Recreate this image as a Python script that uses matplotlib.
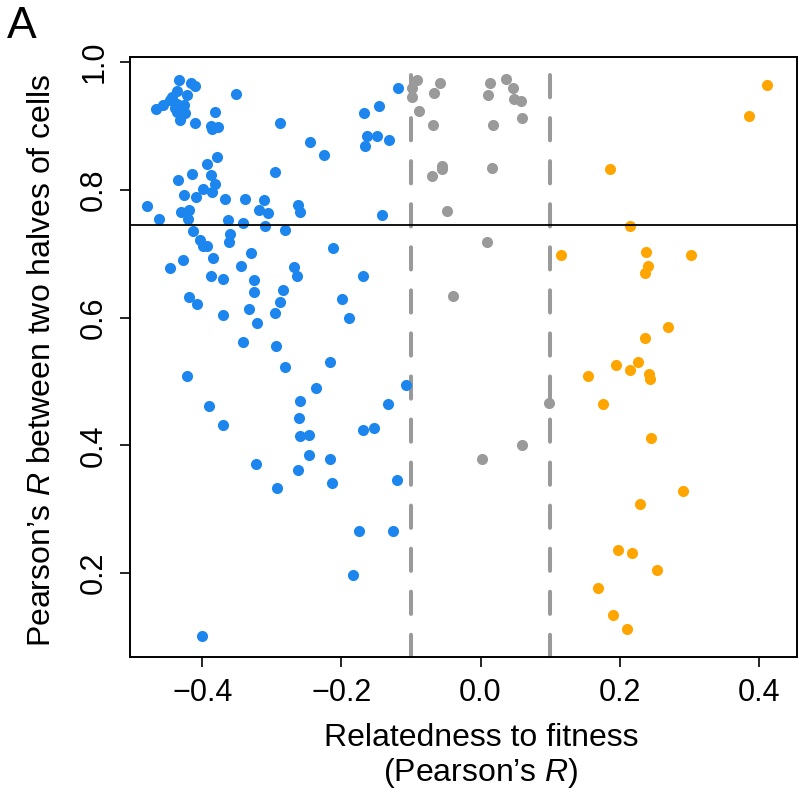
import matplotlib
matplotlib.use("Agg")
import matplotlib.pyplot as plt

plt.rcParams['font.family'] = ['Liberation Sans', 'DejaVu Sans']
plt.rcParams['mathtext.fontset'] = 'custom'
plt.rcParams['mathtext.rm'] = 'Liberation Sans'
plt.rcParams['mathtext.it'] = 'Liberation Sans:italic'
plt.rcParams['lines.scale_dashes'] = False

# genes negatively related to fitness (R < -0.1)
neg_x = [-0.433, -0.417, -0.410, -0.437, -0.422, -0.457, -0.466, -0.446, -0.437, -0.427,
         -0.437, -0.425, -0.432, -0.410, -0.352, -0.382, -0.387, -0.378, -0.386, -0.289,
         -0.245, -0.379, -0.394, -0.295, -0.415, -0.435, -0.387, -0.399, -0.382, -0.386,
         -0.427, -0.409, -0.368, -0.339, -0.311, -0.318, -0.306, -0.479, -0.462, -0.430,
         -0.419, -0.421, -0.363, -0.342, -0.263, -0.260, -0.310, -0.281, -0.413, -0.360,
         -0.362, -0.403, -0.399, -0.393, -0.330, -0.384, -0.428, -0.447, -0.344, -0.268,
         -0.264, -0.388, -0.370, -0.326, -0.325, -0.284, -0.419, -0.408, -0.288, -0.333,
         -0.296, -0.370, -0.321, -0.342, -0.294, -0.281, -0.422, -0.260, -0.390, -0.261,
         -0.370, -0.260, -0.246, -0.323, -0.263, -0.293, -0.400, -0.246, -0.118, -0.146,
         -0.168, -0.163, -0.149, -0.132, -0.166, -0.225, -0.141, -0.212, -0.169, -0.199,
         -0.189, -0.216, -0.107, -0.237, -0.133, -0.169, -0.153, -0.216, -0.214, -0.120,
         -0.175, -0.126, -0.184, -0.440, -0.430, -0.443]
neg_y = [0.972, 0.968, 0.962, 0.954, 0.949, 0.933, 0.926, 0.940, 0.935, 0.933,
         0.922, 0.920, 0.909, 0.905, 0.950, 0.922, 0.900, 0.899, 0.896, 0.904,
         0.875, 0.852, 0.841, 0.828, 0.825, 0.816, 0.824, 0.802, 0.809, 0.797,
         0.792, 0.789, 0.786, 0.786, 0.784, 0.769, 0.763, 0.774, 0.754, 0.766,
         0.768, 0.755, 0.752, 0.748, 0.777, 0.766, 0.743, 0.737, 0.736, 0.731,
         0.719, 0.721, 0.712, 0.712, 0.701, 0.693, 0.690, 0.678, 0.680, 0.679,
         0.665, 0.665, 0.661, 0.659, 0.640, 0.643, 0.632, 0.622, 0.624, 0.614,
         0.607, 0.604, 0.591, 0.561, 0.556, 0.523, 0.509, 0.470, 0.461, 0.442,
         0.431, 0.414, 0.416, 0.370, 0.361, 0.333, 0.102, 0.385, 0.959, 0.932,
         0.921, 0.885, 0.884, 0.878, 0.868, 0.855, 0.760, 0.709, 0.665, 0.629,
         0.599, 0.530, 0.495, 0.489, 0.465, 0.424, 0.427, 0.379, 0.341, 0.346,
         0.266, 0.266, 0.197, 0.928, 0.915, 0.945]

# genes unrelated to fitness (-0.1 <= R <= 0.1)
mid_x = [-0.091, -0.099, -0.098, -0.059, -0.067, -0.089, -0.069, -0.056, -0.055, -0.070,
         -0.048, 0.014, 0.011, 0.037, 0.047, 0.048, 0.058, 0.059, 0.018, 0.016,
         0.009, -0.040, 0.002, 0.060, 0.099]
mid_y = [0.972, 0.959, 0.946, 0.968, 0.952, 0.923, 0.902, 0.838, 0.833, 0.822,
         0.767, 0.968, 0.948, 0.973, 0.959, 0.942, 0.939, 0.913, 0.901, 0.834,
         0.719, 0.633, 0.378, 0.400, 0.467]

# genes positively related to fitness (R > 0.1)
pos_x = [0.412, 0.386, 0.186, 0.215, 0.115, 0.238, 0.302, 0.241, 0.237, 0.270,
         0.237, 0.226, 0.195, 0.215, 0.154, 0.242, 0.244, 0.176, 0.245, 0.291,
         0.229, 0.198, 0.218, 0.254, 0.169, 0.190, 0.211]
pos_y = [0.964, 0.916, 0.832, 0.744, 0.698, 0.703, 0.698, 0.681, 0.669, 0.586,
         0.568, 0.530, 0.525, 0.518, 0.508, 0.512, 0.504, 0.464, 0.412, 0.328,
         0.308, 0.236, 0.231, 0.205, 0.177, 0.135, 0.113]

cutoffs = [-0.1, 0.1]
threshold = 0.745

xticks = [-0.4, -0.2, 0.0, 0.2, 0.4]
yticks = [0.2, 0.4, 0.6, 0.8, 1.0]

W, H = 802, 792
fig = plt.figure(figsize=(W / 100, H / 100), dpi=100)
ax = fig.add_axes([130 / W, 1 - 657 / H, 667 / W, 600 / H])

for v in cutoffs:
    ax.axvline(v, color='#9a9a9a', lw=2.9, dashes=(16, 15), dash_capstyle='round', zorder=1)

ax.scatter(neg_x, neg_y, s=64, color='#1C86EE', linewidths=0, zorder=2)
ax.scatter(mid_x, mid_y, s=64, color='#9a9a9a', linewidths=0, zorder=2)
ax.scatter(pos_x, pos_y, s=64, color='#FFA500', linewidths=0, zorder=2)

ax.axhline(threshold, color='black', lw=1.3, zorder=3)

ax.set_xlim(-0.504, 0.455)
ax.set_ylim(0.0685, 1.008)
ax.set_xticks(xticks)
ax.set_xticklabels(['\u22120.4', '\u22120.2', '0.0', '0.2', '0.4'])
ax.set_yticks(yticks)
ax.set_yticklabels(['0.2', '0.4', '0.6', '0.8', '1.0'], rotation=90, va='center')

for sp in ax.spines.values():
    sp.set_linewidth(1.4)
ax.tick_params(direction='out', length=7, width=1.2, labelsize=22, pad=8)

fig.text(481 / W, 1 - 738 / H, 'Relatedness to fitness', ha='center', va='center', fontsize=23)
fig.text(481 / W, 1 - 773 / H, '(Pearson\u2019s $\\mathit{R}$)', ha='center', va='center', fontsize=23)
fig.text(42 / W, 1 - 360 / H, 'Pearson\u2019s $\\mathit{R}$ between two halves of cells',
         ha='center', va='center', rotation=90, fontsize=23)
fig.text(7 / W, 1 - 26 / H, 'A', ha='left', va='center', fontsize=32)

fig.savefig('out.png', dpi=100)
